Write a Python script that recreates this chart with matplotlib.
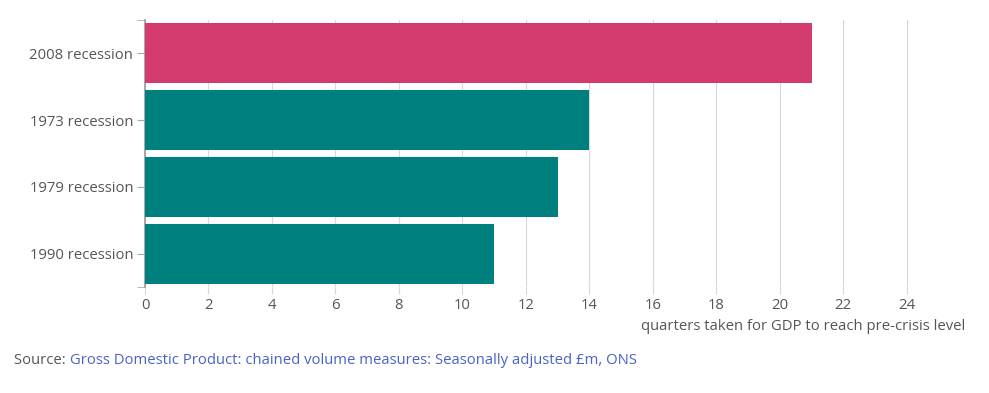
import matplotlib.pyplot as plt

categories = ["2008 recession", "1973 recession", "1979 recession", "1990 recession"]
quarters = [21, 14, 13, 11]
bar_colors = ["#d33a6e", "#007f7f", "#007f7f", "#007f7f"]
xticks = [0, 2, 4, 6, 8, 10, 12, 14, 16, 18, 20, 22, 24]

plt.rcParams['font.family'] = ['Open Sans', 'DejaVu Sans']

fig = plt.figure(figsize=(9.89, 3.93), dpi=100)
ax = fig.add_axes([145 / 989, 1 - 287 / 393, (964 - 145) / 989, (287 - 20) / 393])

pos = list(range(len(categories)))
ax.barh(pos, quarters, height=0.9, color=bar_colors, zorder=3)

ax.set_xlim(0, 25.8)
ax.set_ylim(3.5, -0.5)
ax.set_xticks(xticks)
ax.set_xticklabels([str(t) for t in xticks])
ax.set_yticks(pos)
ax.set_yticklabels(categories)
ax.set_yticks([-0.5, 3.5], minor=True)

ax.grid(axis='x', color='#d8d8d8', linewidth=0.8, zorder=0)
for s in ['top', 'right', 'bottom']:
    ax.spines[s].set_visible(False)
ax.spines['left'].set_color('#999999')
ax.spines['left'].set_linewidth(1.2)

ax.tick_params(axis='x', length=5, color='#d8d8d8', width=0.8, labelsize=10.7, labelcolor='#555555', pad=3)
ax.tick_params(axis='y', which='both', length=6, color='#aaaaaa', labelsize=10.7, labelcolor='#555555', pad=2.4)

fig.text(965 / 989, 1 - 327 / 393, "quarters taken for GDP to reach pre-crisis level",
         ha='right', va='center', fontsize=10.7, color='#555555')

t1 = fig.text(14 / 989, 1 - 360 / 393, "Source: ", ha='left', va='center', fontsize=10.75, color='#555555')
fig.canvas.draw()
bb = t1.get_window_extent()
fig.text(bb.x1 / 989, 1 - 360 / 393,
         "Gross Domestic Product: chained volume measures: Seasonally adjusted £m, ONS",
         ha='left', va='center', fontsize=10.75, color='#4a62c8')

fig.savefig("out.png", dpi=100)
